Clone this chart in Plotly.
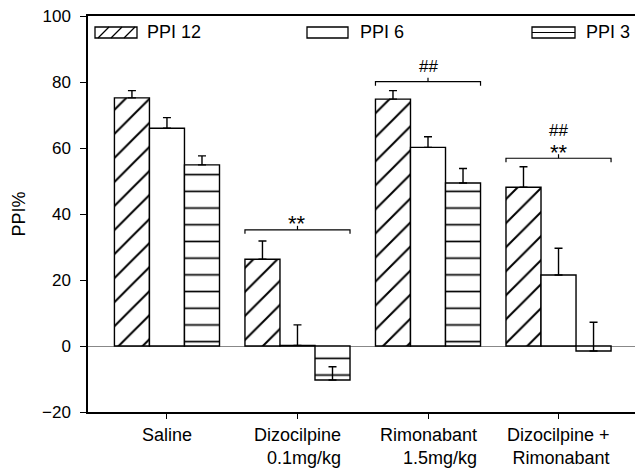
import plotly.graph_objects as go

# ---------------- data ----------------
categories = ["Saline", "Dizocilpine", "Rimonabant", "Dizocilpine + Rimonabant"]
cat_labels = ["Saline", "Dizocilpine<br>0.1mg/kg", "Rimonabant<br>1.5mg/kg", "Dizocilpine +<br>Rimonabant"]
series_names = ["PPI 12", "PPI 6", "PPI 3"]
ppi12 = [75.2, 26.3, 74.8, 48.1]
ppi12_err = [2.2, 5.5, 2.6, 6.2]
ppi6 = [66.0, 0.2, 60.2, 21.5]
ppi6_err = [3.2, 6.2, 3.2, 8.1]
ppi3 = [54.9, -10.3, 49.4, -1.5]
ppi3_err = [2.7, 4.0, 4.4, 8.7]
y_ticks = [-20, 0, 20, 40, 60, 80, 100]
sig_groups = [1, 2, 3]
sig_heights = [35.2, 80.1, 56.9]
sig_texts = [["**"], ["##"], ["**", "##"]]
sig_offsets = [[6], [15], [6, 28]]   # pixel offsets above the bracket

# ---------------- layout constants ----------------
W, H = 635, 469
L, R, T, B = 88, 635, 16, 412
Y0, Y1 = -20, 100
X0, X1 = -0.605, 3.586
px_per_y = (B - T) / (Y1 - Y0)
FONT = "Liberation Sans, Arial, sans-serif"
INK = "#000000"

def fx(xp):
    return (xp - L) / (R - L)

def fy(yp):
    return (B - yp) / (B - T)

patterns = [dict(shape="/", size=17, solidity=0.12, fgcolor=INK, fgopacity=1, bgcolor="white"),
            dict(shape="", bgcolor="white"),
            dict(shape="-", size=16.7, solidity=0.1, fgcolor=INK, fgopacity=1, bgcolor="white")]
values = [ppi12, ppi6, ppi3]
errors = [ppi12_err, ppi6_err, ppi3_err]

fig = go.Figure()
for name, v, e, pat in zip(series_names, values, errors, patterns):
    fig.add_trace(go.Bar(
        x=categories, y=v, name=name,
        marker=dict(color="white", line=dict(color=INK, width=1.4), pattern=pat),
        error_y=dict(type="data", symmetric=False, array=e, arrayminus=[0] * len(e),
                     color=INK, thickness=1.4, width=4),
        showlegend=False,
    ))

shapes = []
annotations = []

# significance brackets
half = (1 - 0.195) / 2
tick_d = 4 / px_per_y
for g, h, txts, offs in zip(sig_groups, sig_heights, sig_texts, sig_offsets):
    xa, xb = g - half, g + half
    shapes.append(dict(type="path", xref="x", yref="y",
                       path=f"M {xa},{h - tick_d} L {xa},{h} L {xb},{h} L {xb},{h - tick_d}",
                       line=dict(color=INK, width=1.2)))
    shapes.append(dict(type="line", xref="x", yref="y", x0=g, x1=g, y0=h, y1=h + tick_d,
                       line=dict(color=INK, width=1.2)))
    for t, o in zip(txts, offs):
        size = 22 if t == "**" else 17
        annotations.append(dict(x=g, y=h, xref="x", yref="y", text=t, showarrow=False,
                                yanchor="middle", yshift=o, borderpad=0,
                                font=dict(family=FONT, size=size, color=INK)))

# category labels (block centred on tick, lines right-aligned)
for c, lab in zip(categories, cat_labels):
    annotations.append(dict(x=c, y=0, xref="x", yref="paper", text=lab, showarrow=False,
                            xanchor="center", yanchor="top", yshift=-11, align="right",
                            font=dict(family=FONT, size=18, color=INK)))

# legend drawn inside the plot top
sw_x = [(95, 137), (307, 348), (532, 575)]
txt_x = [145, 358, 584]
sy0, sy1 = 27, 38
for i, (name, (a, b), tx) in enumerate(zip(series_names, sw_x, txt_x)):
    shapes.append(dict(type="rect", xref="paper", yref="paper",
                       x0=fx(a), x1=fx(b), y0=fy(sy1), y1=fy(sy0),
                       line=dict(color=INK, width=1.3), fillcolor="white"))
    if i == 0:
        for bx in [a + 3, a + 16, a + 29]:
            shapes.append(dict(type="line", xref="paper", yref="paper",
                               x0=fx(bx), x1=fx(min(bx + 11, b)), y0=fy(sy1), y1=fy(sy0),
                               line=dict(color=INK, width=1.2)))
    if i == 2:
        shapes.append(dict(type="line", xref="paper", yref="paper",
                           x0=fx(a), x1=fx(b), y0=fy((sy0 + sy1) / 2), y1=fy((sy0 + sy1) / 2),
                           line=dict(color=INK, width=1.2)))
    annotations.append(dict(x=fx(tx), y=fy((sy0 + sy1) / 2), xref="paper", yref="paper",
                            text=name, showarrow=False, xanchor="left", yanchor="middle",
                            font=dict(family=FONT, size=18, color=INK)))

fig.update_layout(
    width=W, height=H,
    margin=dict(l=L, r=W - R, t=T, b=H - B),
    paper_bgcolor="white", plot_bgcolor="white",
    barmode="group", bargap=0.195, bargroupgap=0,
    font=dict(family=FONT, size=17, color=INK),
    shapes=shapes, annotations=annotations,
    showlegend=False,
)
fig.update_xaxes(range=[X0, X1], showline=True, linecolor=INK, linewidth=1.5, mirror=True,
                 ticks="outside", ticklen=5, tickwidth=1.3, tickcolor=INK,
                 showticklabels=False, showgrid=False, zeroline=False)
fig.update_yaxes(range=[Y0, Y1], tickvals=y_ticks, showline=True, linecolor=INK, linewidth=1.5,
                 ticks="outside", ticklen=6, tickwidth=1.3, tickcolor=INK,
                 ticklabelstandoff=6,
                 tickfont=dict(family=FONT, size=17, color=INK),
                 showgrid=False, zeroline=True, zerolinecolor="#888", zerolinewidth=1,
                 title=dict(text="PPI%", font=dict(family=FONT, size=18, color=INK), standoff=12))

fig.write_html("out.html")
